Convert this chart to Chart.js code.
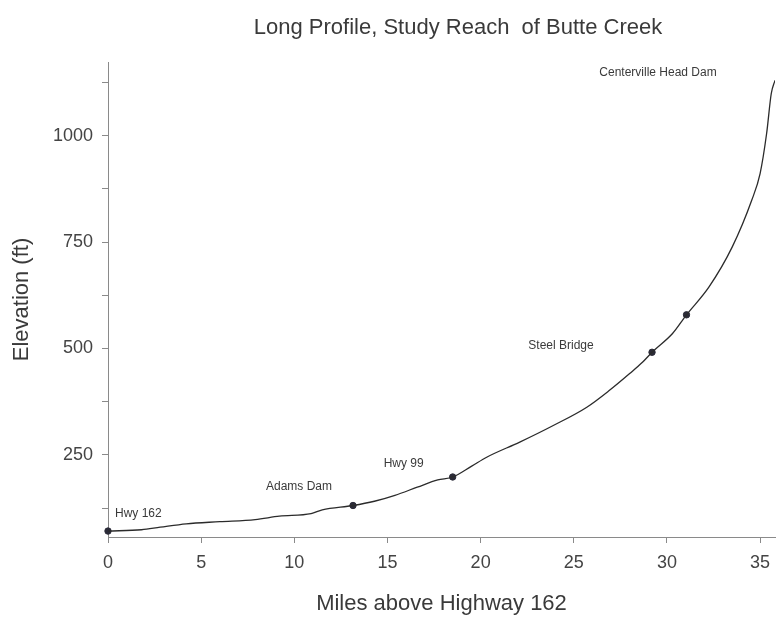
<!DOCTYPE html>
<html><head><meta charset="utf-8">
<script src="https://cdn.jsdelivr.net/npm/chart.js@4"></script>
<style>html,body{margin:0;padding:0;background:#fff}</style>
</head><body>
<canvas id="c" width="780" height="617"></canvas>
<script>
// ---- data ----
const miles     = [0, 1.8, 2.8, 4.2, 6.0, 7.9, 9.2, 10.9, 11.5, 13.15, 14.3, 15.4, 16.6, 17.7, 18.5, 19.5, 20.35, 22.1, 23.9, 25.7, 26.9, 28.0, 28.7, 29.2, 30.3, 31.05, 32.25, 33.5, 34.55, 35.0, 35.35, 35.6, 35.8];
const elevation = [71, 74, 80, 88, 93, 98, 106, 112, 121, 131, 141, 155, 174, 191, 198, 223, 245, 280, 319, 362, 401, 441, 468, 491, 535, 579, 644, 738, 848, 911, 1005, 1099, 1130];
const markerMiles = [0, 13.15, 18.5, 29.2, 31.05];
const markerElev  = [71, 131, 198, 491, 579];
const landmarkNames = ['Hwy 162', 'Adams Dam', 'Hwy 99', 'Steel Bridge', 'Centerville Head Dam'];
const landmarkMiles = [0, 13.15, 18.5, 29.2, 35.8];
const landmarkElev  = [71, 131, 198, 491, 1130];
const xTickValues = [0, 5, 10, 15, 20, 25, 30, 35];
const yTickValues = [125, 250, 375, 500, 625, 750, 875, 1000, 1125];
const yLabelValues = [250, 500, 750, 1000];
const chartTitle = 'Long Profile, Study Reach  of Butte Creek';
const xTitle = 'Miles above Highway 162';
const yTitle = 'Elevation (ft)';

const FONT = "'Liberation Sans', Arial, Helvetica, sans-serif";
const TXT = '#3a3a3a';
const AXIS = '#8a8a8a';

// label offsets (pixels, relative to the landmark point) and alignment
const labelStyle = [
  {dx: 7, dy: -17, align: 'left'},
  {dx: -54, dy: -19, align: 'center'},
  {dx: -49, dy: -13, align: 'center'},
  {dx: -91, dy: -7, align: 'center'},
  {dx: -117, dy: -8, align: 'center'}
];

const overlay = {
  id: 'overlay',
  afterDatasetsDraw(chart) {
    const {ctx, scales: {x, y}} = chart;
    ctx.save();
    ctx.fillStyle = TXT;
    ctx.textBaseline = 'middle';
    ctx.font = '12px ' + FONT;
    landmarkNames.forEach((name, i) => {
      const px = x.getPixelForValue(landmarkMiles[i]);
      const py = y.getPixelForValue(landmarkElev[i]);
      const s = labelStyle[i];
      ctx.textAlign = s.align;
      ctx.fillText(name, px + s.dx, py + s.dy);
    });
    ctx.font = '22px ' + FONT;
    ctx.textAlign = 'center';
    ctx.fillText(chartTitle, 458, 28);
    ctx.restore();
  }
};

new Chart(document.getElementById('c'), {
  type: 'line',
  data: {
    datasets: [
      {
        data: miles.map((m, i) => ({x: m, y: elevation[i]})),
        borderColor: '#2b2b2b',
        borderWidth: 1.3,
        pointRadius: 0,
        cubicInterpolationMode: 'monotone',
        fill: false
      },
      {
        type: 'scatter',
        data: markerMiles.map((m, i) => ({x: m, y: markerElev[i]})),
        backgroundColor: '#2b2b38',
        borderColor: '#2b2b38',
        pointRadius: 3.2,
        showLine: false,
        clip: false
      }
    ]
  },
  options: {
    responsive: false,
    animation: false,
    events: [],
    layout: {padding: {top: 62, left: 0, right: 0, bottom: 0}},
    plugins: {legend: {display: false}, title: {display: false}, tooltip: {enabled: false}},
    scales: {
      x: {
        type: 'linear', min: 0, max: 35.8,
        afterBuildTicks: s => { s.ticks = xTickValues.map(v => ({value: v})); },
        afterFit: s => { s.height = 80; },
        ticks: {color: '#444', font: {family: FONT, size: 18}, padding: 9, maxRotation: 0, autoSkip: false},
        grid: {display: true, drawOnChartArea: false, drawTicks: true, tickLength: 6, color: AXIS},
        border: {display: true, color: AXIS, width: 1},
        title: {display: true, text: xTitle, color: TXT, font: {family: FONT, size: 22}, padding: {top: 0, bottom: 0}}
      },
      y: {
        type: 'linear', min: 57, max: 1173,
        afterBuildTicks: s => { s.ticks = yTickValues.map(v => ({value: v})); },
        afterFit: s => { s.width = 108; },
        ticks: {color: '#444', font: {family: FONT, size: 18}, padding: 9, autoSkip: false,
          callback: v => yLabelValues.includes(v) ? String(v) : ''},
        grid: {display: true, drawOnChartArea: false, drawTicks: true, tickLength: 6, color: AXIS},
        border: {display: true, color: AXIS, width: 1},
        title: {display: true, text: yTitle, color: TXT, font: {family: FONT, size: 22}, padding: {top: 9, bottom: 0}}
      }
    }
  },
  plugins: [overlay]
});
</script>
</body></html>
